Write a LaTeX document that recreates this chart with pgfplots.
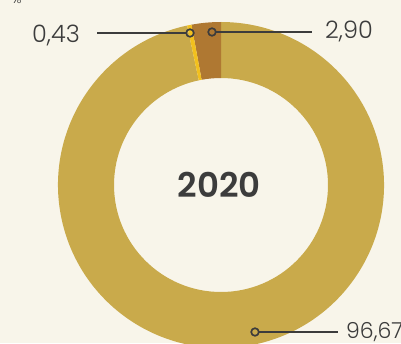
\documentclass[border=0pt]{standalone}
\usepackage{pgfplots}
\usepackage{pgfplotstable}
\pgfplotsset{compat=1.18}
\usepackage{fontspec}
\setmainfont{Poppins}[UprightFont=* Light, BoldFont=* SemiBold]
\definecolor{bg}{HTML}{F8F5EA}
\definecolor{cgold}{HTML}{C9AA4B}
\definecolor{cbrown}{HTML}{AF7832}
\definecolor{cyellow}{HTML}{F2C01E}
\definecolor{ctext}{HTML}{3C3C3C}
\pgfplotstableread{
label value
brown 2.90
yellow 0.43
gold 96.67
}\datatable
\begin{document}
\begin{tikzpicture}
\path[use as bounding box] (0,0) rectangle (401pt,343pt);
\clip (0,0) rectangle (401pt,343pt);
\fill[bg] (0,0) rectangle (401pt,343pt);
\begin{axis}[x=1pt,y=1pt,xmin=0,xmax=401,ymin=0,ymax=343,hide axis,
  at={(0,0)},anchor=south west,clip=false]
\pgfplotstablegetelem{0}{value}\of\datatable \let\va\pgfplotsretval
\pgfplotstablegetelem{1}{value}\of\datatable \let\vb\pgfplotsretval
\pgfplotstablegetelem{2}{value}\of\datatable \let\vc\pgfplotsretval
\pgfmathsetmacro{\aA}{90}
\pgfmathsetmacro{\aB}{\aA+3.6*\va}
\pgfmathsetmacro{\aC}{\aB+3.6*\vb}
\pgfmathsetmacro{\aD}{\aC+3.6*\vc}
\def\R{163pt}\def\r{107pt}
\fill[cgold] (axis cs:221,158) ++(\aC:\R) arc[start angle=\aC,end angle=\aD,radius=\R] -- ++(\aD+180:56pt) arc[start angle=\aD,end angle=\aC,radius=\r] -- cycle;
\fill[cbrown] (axis cs:221,158) ++(\aA:\R) arc[start angle=\aA,end angle=\aB,radius=\R] -- ++(\aB+180:56pt) arc[start angle=\aB,end angle=\aA,radius=\r] -- cycle;
\fill[cyellow] (axis cs:221,158) ++(\aB:\R) arc[start angle=\aB,end angle=\aC,radius=\R] -- ++(\aC+180:56pt) arc[start angle=\aC,end angle=\aB,radius=\r] -- cycle;
% callouts
\addplot[ctext,line width=1.7pt,no marks] coordinates {(97,310) (186,310)};
\addplot[ctext,line width=1.7pt,no marks] coordinates {(216,311) (312,311)};
\addplot[ctext,line width=1.7pt,no marks] coordinates {(259,11) (338,11)};
\addplot[ctext,only marks,mark=o,mark size=3.8pt,mark options={line width=1.7pt}] coordinates {(190,310) (212,311) (255,11)};
\node[ctext,anchor=base east,font=\fontsize{24}{28}\selectfont,inner sep=0pt] at (axis cs:80,300) {0,43};
\node[ctext,anchor=base west,font=\fontsize{24}{28}\selectfont,inner sep=0pt] at (axis cs:325,304) {2,90};
\node[ctext,anchor=base west,font=\fontsize{22}{26}\selectfont,inner sep=0pt] at (axis cs:346,5) {96,67};
\node[ctext,anchor=base,font=\fontsize{34}{40}\selectfont\bfseries,inner sep=0pt] at (axis cs:219,146) {2020};
\node[ctext,anchor=base west,font=\fontsize{13}{16}\selectfont,inner sep=0pt] at (axis cs:12,339) {\%};
\end{axis}
\end{tikzpicture}
\end{document}
